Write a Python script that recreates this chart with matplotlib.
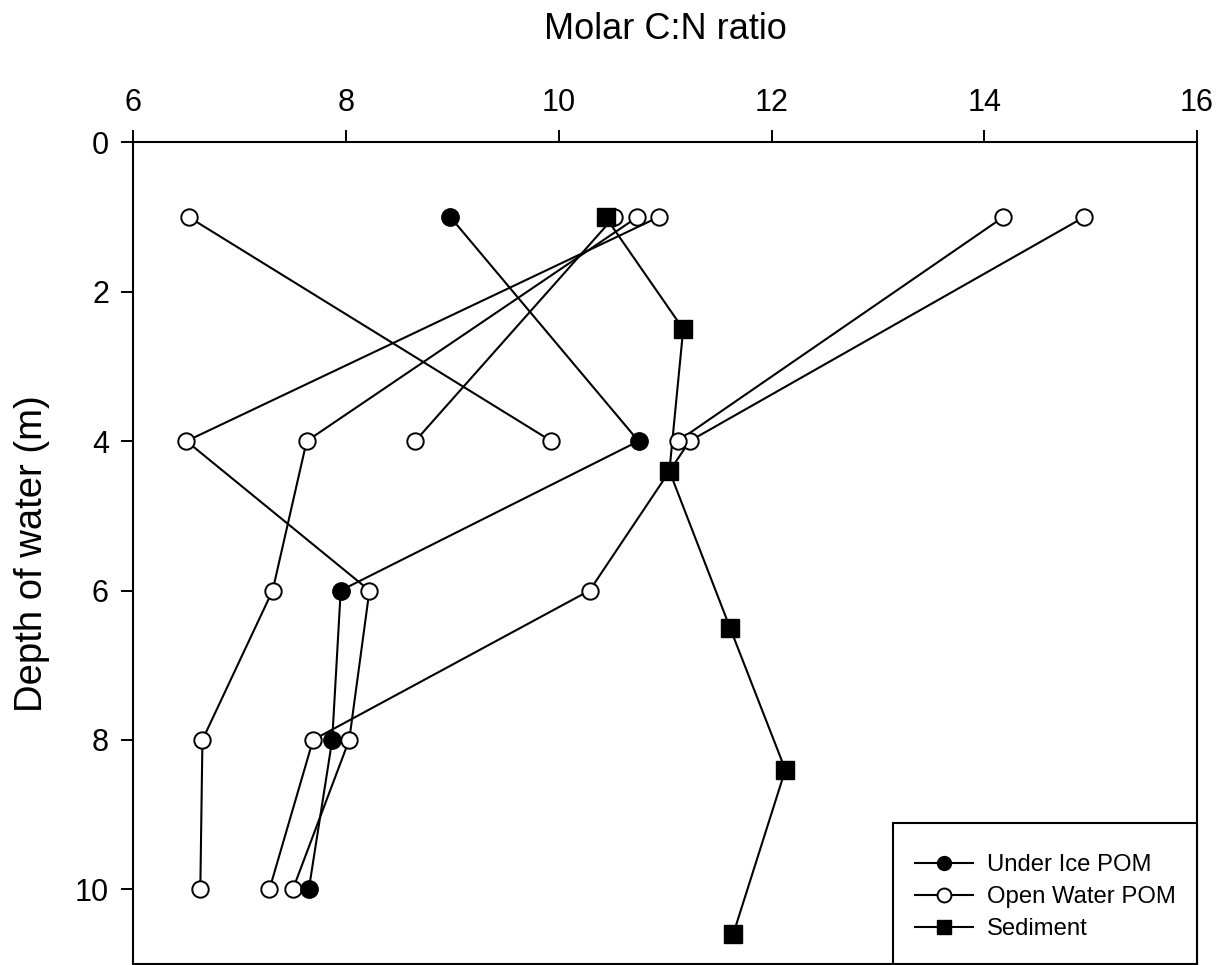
import numpy as np
import matplotlib
matplotlib.use('Agg')
import matplotlib.pyplot as plt
from matplotlib.lines import Line2D
from matplotlib.patches import Rectangle

plt.rcParams['font.family'] = ['Liberation Sans', 'DejaVu Sans']

# depths (m) sampled for POM
depth_pom = [1, 4, 6, 8, 10]
# Under ice POM, molar C:N
under_ice = [8.98, 10.75, 7.95, 7.87, 7.65]
# Open water POM profiles (nan = not sampled)
nan = np.nan
open_water = [
    [6.52, 9.93, nan, nan, nan],
    [10.52, 8.65, nan, nan, nan],
    [10.74, 7.63, 7.31, 6.65, 6.63],
    [10.94, 6.50, 8.22, 8.03, 7.50],
    [14.94, 11.23, 10.29, 7.69, 7.28],
    [14.18, 11.12, nan, nan, nan],
]
# sediment
sed_depth = [1.0, 2.5, 4.4, 6.5, 8.4, 10.6]
sediment = [10.44, 11.17, 11.04, 11.61, 12.13, 11.64]

labels = ['Under Ice POM', 'Open Water POM', 'Sediment']
xticks = [6, 8, 10, 12, 14, 16]
yticks = [0, 2, 4, 6, 8, 10]

fig = plt.figure(figsize=(12.22, 9.65), dpi=100)
ax = fig.add_axes([133.3 / 1222, 1.0 / 965, (1197 - 133.3) / 1222, (964 - 142.3) / 965])

lw = 1.5
# lines first, symbols on top (like SigmaPlot)
for prof in open_water:
    ax.plot(prof, depth_pom, color='black', lw=lw, zorder=2)
ax.plot(under_ice, depth_pom, color='black', lw=lw, zorder=2)
ax.plot(sediment, sed_depth, color='black', lw=lw, zorder=2)

for prof in open_water:
    ax.plot(prof, depth_pom, ls='none', marker='o', ms=11.8, mfc='white',
            mec='black', mew=1.4, zorder=3)
ax.plot(under_ice, depth_pom, ls='none', marker='o', ms=12.5, mfc='black',
        mec='black', zorder=4)
ax.plot(sediment, sed_depth, ls='none', marker='s', ms=12.5, mfc='black',
        mec='black', zorder=5)

ax.set_xlim(6, 16)
ax.set_ylim(11, 0)
ax.set_xticks(xticks)
ax.set_yticks(yticks)
ax.xaxis.tick_top()
ax.xaxis.set_label_position('top')
ax.tick_params(axis='both', direction='out', length=8.5, width=1.4,
               labelsize=22, pad=9)
for sp in ax.spines.values():
    sp.set_linewidth(1.5)

ax.set_xlabel('Molar C:N ratio', fontsize=26, labelpad=35)
ax.set_ylabel('Depth of water (m)', fontsize=27.5, labelpad=18)

handles = [
    Line2D([], [], color='black', lw=lw, marker='o', ms=10, mfc='black', mec='black'),
    Line2D([], [], color='black', lw=lw, marker='o', ms=10, mfc='white', mec='black', mew=1.4),
    Line2D([], [], color='black', lw=lw, marker='s', ms=10, mfc='black', mec='black'),
]
leg = ax.legend(handles, labels, loc='lower right', bbox_to_anchor=(1, 0.003),
                borderaxespad=0, fontsize=17.2, handlelength=2.39,
                handletextpad=0.59, labelspacing=0.42, borderpad=0.9,
                frameon=False)
leg.set_zorder(7)
# legend box, taller than the entries as in the original
ax.add_patch(Rectangle((0.714, 0), 0.286, 0.172, transform=ax.transAxes,
                       facecolor='white', edgecolor='black', lw=1.5,
                       zorder=6, clip_on=False))

fig.savefig('out.png', dpi=100)
